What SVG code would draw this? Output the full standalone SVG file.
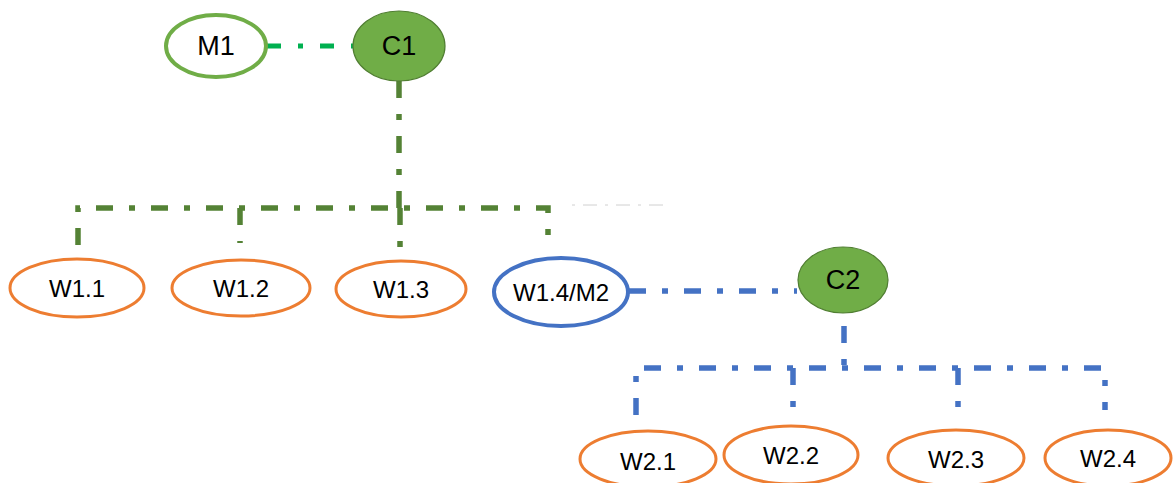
<svg xmlns="http://www.w3.org/2000/svg" width="1173" height="483" viewBox="0 0 1173 483">
<style>
.t{font-family:"Liberation Sans",Arial,sans-serif;fill:#000;text-anchor:middle;dominant-baseline:central}
.w{fill:#fff;stroke:#ED7D31;stroke-width:3}
.c{fill:#70AD47;stroke:#507E32;stroke-width:1.2}
.g{fill:none;stroke:#548235;stroke-width:5.5;stroke-dasharray:17 16 6 16}
.b{fill:none;stroke:#4472C4;stroke-width:5.5;stroke-dasharray:17 16 6 16}
</style>
<rect width="1173" height="483" fill="#fff"/>
<g id="connectors">
<path d="M267 46 H353" fill="none" stroke="#00B050" stroke-width="5" stroke-dasharray="14 17 5 17"/>
<path class="g" d="M399 81 V208"/>
<path class="g" d="M78 245 V208 H548 V250"/>
<path class="g" d="M240 208 V243" stroke-dasharray="17 12 6 16"/>
<path class="g" d="M400 208 V262"/>
<path d="M572 205 H668" fill="none" stroke="#d0d0d0" stroke-width="1" stroke-dasharray="3 8 14 8"/>
<path class="b" d="M629 291 H797"/>
<path class="b" d="M844 326 V368"/>
<path class="b" d="M636 415 V368 H1105 V410"/>
<path class="b" d="M793 368 V415"/>
<path class="b" d="M958 368 V420"/>
</g>
<g id="M1"><ellipse cx="216" cy="46" rx="50" ry="31" fill="#fff" stroke="#70AD47" stroke-width="4"/><text class="t" x="216" y="46" font-size="27">M1</text></g>
<g id="C1"><ellipse class="c" cx="399" cy="46" rx="46" ry="35"/><text class="t" x="399" y="46" font-size="27">C1</text></g>
<g id="W1.1"><ellipse class="w" cx="77" cy="288" rx="67" ry="29"/><text class="t" x="77" y="288" font-size="24">W1.1</text></g>
<g id="W1.2"><ellipse class="w" cx="241" cy="288" rx="69" ry="28"/><text class="t" x="241" y="288" font-size="24">W1.2</text></g>
<g id="W1.3"><ellipse class="w" cx="401" cy="289" rx="65" ry="28"/><text class="t" x="401" y="289" font-size="24">W1.3</text></g>
<g id="W1.4_M2"><ellipse cx="561" cy="292" rx="67" ry="34" fill="#fff" stroke="#4472C4" stroke-width="4"/><text class="t" x="561" y="292" font-size="24">W1.4/M2</text></g>
<g id="C2"><ellipse class="c" cx="843" cy="280" rx="45" ry="33"/><text class="t" x="843" y="280" font-size="27">C2</text></g>
<g id="W2.1"><ellipse class="w" cx="648" cy="459" rx="68" ry="28"/><text class="t" x="648" y="461" font-size="24">W2.1</text></g>
<g id="W2.2"><ellipse class="w" cx="791" cy="455" rx="67" ry="29"/><text class="t" x="791" y="455" font-size="24">W2.2</text></g>
<g id="W2.3"><ellipse class="w" cx="956" cy="458" rx="68" ry="28"/><text class="t" x="956" y="459" font-size="24">W2.3</text></g>
<g id="W2.4"><ellipse class="w" cx="1108" cy="458" rx="63" ry="28"/><text class="t" x="1108" y="458" font-size="24">W2.4</text></g>
</svg>
